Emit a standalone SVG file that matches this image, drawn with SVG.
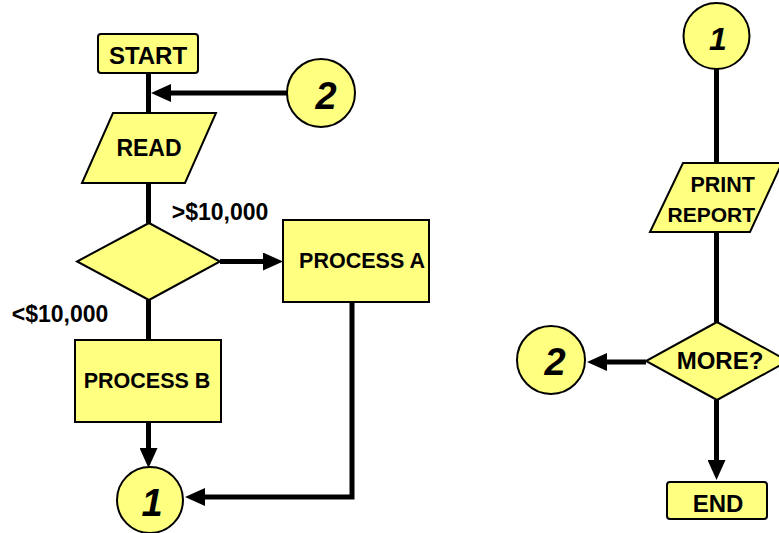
<svg xmlns="http://www.w3.org/2000/svg" width="779" height="533" viewBox="0 0 779 533">
<defs>
<style>
.shape{fill:#FFFF80;stroke:#000;stroke-width:2}
.t{font-family:"Liberation Sans",Arial,sans-serif;font-weight:bold;font-size:22px;fill:#000;text-anchor:middle}
.num{font-family:"Liberation Sans",Arial,sans-serif;font-weight:bold;font-size:38px;fill:#000;text-anchor:middle}
.it{font-style:italic}
.c{fill:none;stroke:#000;stroke-width:5}
</style>
<marker id="ah" markerWidth="20" markerHeight="18" refX="0" refY="9" orient="auto" markerUnits="userSpaceOnUse">
<path d="M0,0 L20,9 L0,18 z" fill="#000"/>
</marker>
</defs>
<rect width="779" height="533" fill="#fff"/>
<g id="connectors">
<line class="c" x1="148.5" y1="73" x2="148.5" y2="113"/>
<line class="c" x1="287" y1="93" x2="171" y2="93" marker-end="url(#ah)"/>
<line class="c" x1="148.5" y1="183" x2="148.5" y2="223"/>
<line class="c" x1="220" y1="261.5" x2="263" y2="261.5" marker-end="url(#ah)"/>
<line class="c" x1="148.5" y1="300" x2="148.5" y2="340"/>
<line class="c" x1="148.5" y1="422" x2="148.5" y2="448" marker-end="url(#ah)"/>
<polyline class="c" points="352,302 352,497 205,497" marker-end="url(#ah)"/>
<line class="c" x1="716.5" y1="69" x2="716.5" y2="163"/>
<line class="c" x1="716.5" y1="232" x2="716.5" y2="322"/>
<line class="c" x1="646" y1="362" x2="607" y2="362" marker-end="url(#ah)"/>
<line class="c" x1="716.5" y1="400" x2="716.5" y2="460" marker-end="url(#ah)"/>
</g>
<g id="start">
<rect class="shape" x="98" y="34" width="100" height="39" rx="3"/>
<text class="t" x="148" y="64" style="font-size:24px">START</text>
</g>
<g id="conn2-top">
<circle class="shape" cx="321" cy="93" r="34"/>
<text class="num it" x="326" y="109">2</text>
</g>
<g id="read">
<polygon class="shape" points="113,113 216,113 185,183 82,183"/>
<text class="t" x="149" y="156" style="font-size:23px">READ</text>
</g>
<g id="decision">
<polygon class="shape" points="149,223 220,261.5 149,300 77,261.5"/>
</g>
<g id="label-gt">
<text class="t" x="220" y="220" style="font-size:23px">&gt;$10,000</text>
</g>
<g id="label-lt">
<text class="t" x="60" y="322" style="font-size:23px">&lt;$10,000</text>
</g>
<g id="processA">
<rect class="shape" x="283" y="220" width="146" height="82"/>
<text class="t" x="362" y="268" style="font-size:21.5px">PROCESS A</text>
</g>
<g id="processB">
<rect class="shape" x="75" y="340" width="146" height="82"/>
<text class="t" x="147" y="388" style="font-size:21.5px">PROCESS B</text>
</g>
<g id="conn1-bottom">
<circle class="shape" cx="150" cy="500" r="33"/>
<text class="num it" x="152" y="516">1</text>
</g>
<g id="conn1-top">
<circle class="shape" cx="716.5" cy="36" r="33"/>
<text class="num it" x="718" y="50" style="font-size:32px">1</text>
</g>
<g id="print">
<polygon class="shape" points="683,163 782,163 750,232 650,232"/>
<text class="t" x="755" y="192" style="text-anchor:end;font-size:21.5px">PRINT</text>
<text class="t" x="755" y="222" style="text-anchor:end;font-size:21px">REPORT</text>
</g>
<g id="more">
<polygon class="shape" points="717,322 788,361 717,400 646,361"/>
<text class="t" x="720" y="369" style="font-size:24px">MORE?</text>
</g>
<g id="conn2-bottom">
<circle class="shape" cx="551" cy="360" r="34"/>
<text class="num it" x="555" y="375">2</text>
</g>
<g id="end">
<rect class="shape" x="667" y="482" width="100" height="37" rx="3"/>
<text class="t" x="718" y="512" style="font-size:24px">END</text>
</g>
</svg>
